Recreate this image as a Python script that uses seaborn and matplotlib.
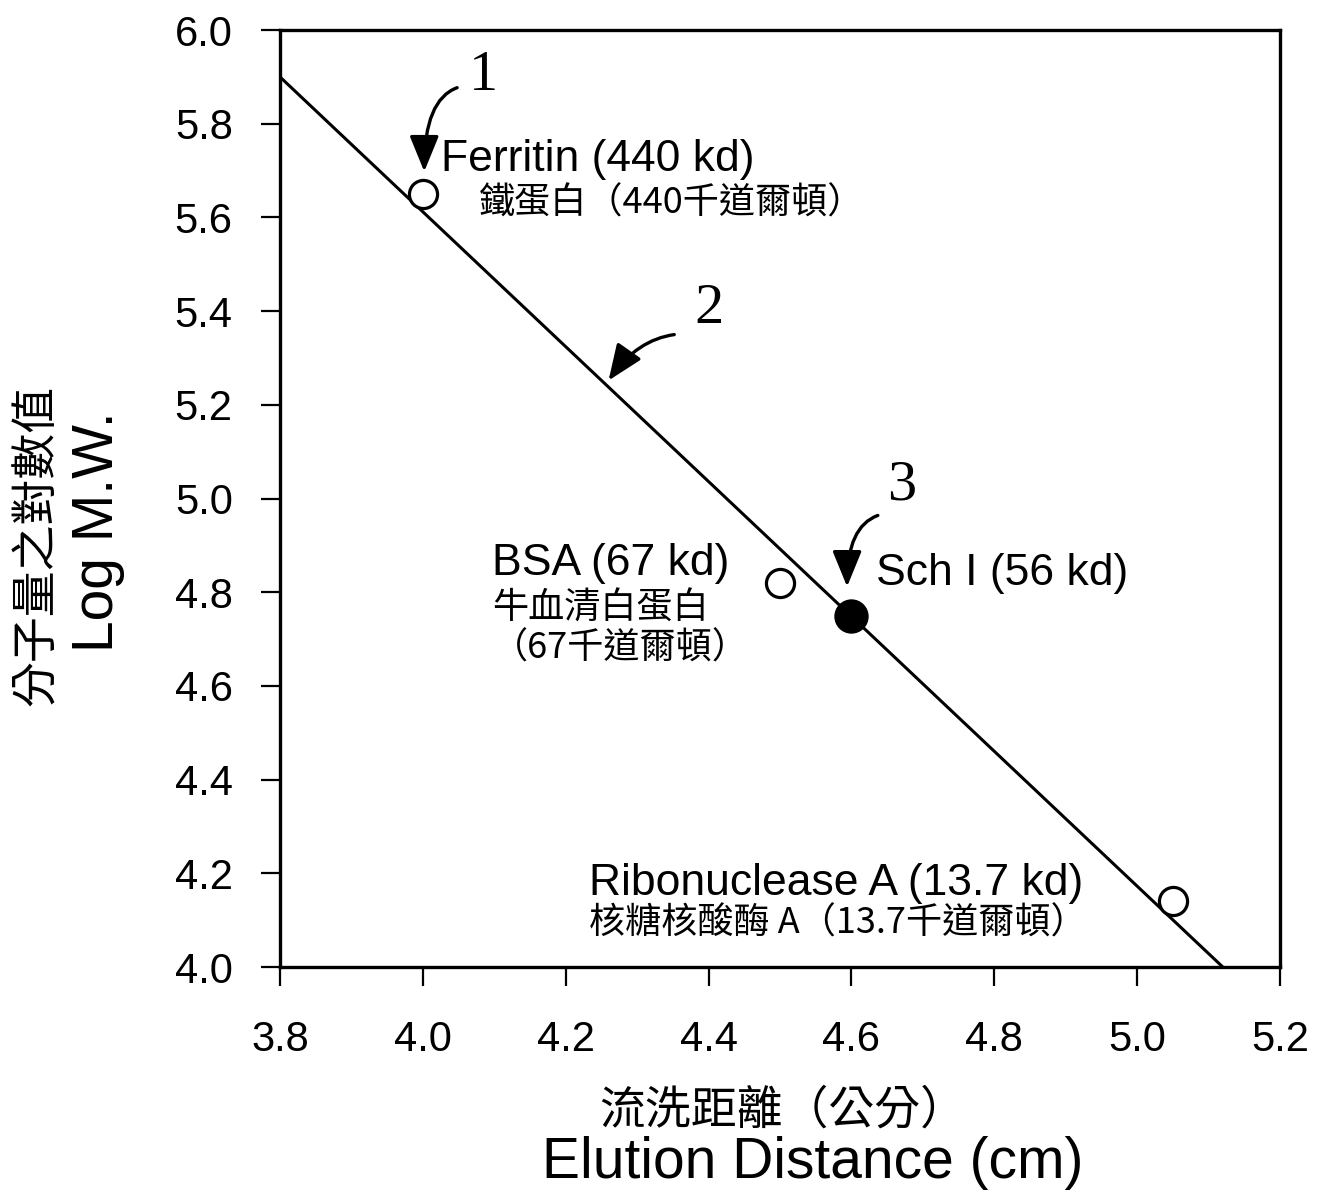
import matplotlib
matplotlib.use("Agg")
import matplotlib.pyplot as plt
import numpy as np
import pandas as pd
import seaborn as sns

# ---------------- data ----------------
standard_names = ["Ferritin", "BSA", "Ribonuclease A"]
standard_x = [4.00, 4.50, 5.05]
standard_y = [5.65, 4.82, 4.14]
sample_names = ["Sch I"]
sample_x = [4.60]
sample_y = [4.75]
fit_x = [3.80, 5.12]
fit_y = [5.90, 4.00]
x_ticks = [3.8, 4.0, 4.2, 4.4, 4.6, 4.8, 5.0, 5.2]
y_ticks = [4.0, 4.2, 4.4, 4.6, 4.8, 5.0, 5.2, 5.4, 5.6, 5.8, 6.0]
x_tick_labels = ["3.8", "4.0", "4.2", "4.4", "4.6", "4.8", "5.0", "5.2"]
y_tick_labels = ["4.0", "4.2", "4.4", "4.6", "4.8", "5.0", "5.2", "5.4", "5.6", "5.8", "6.0"]
label_en = ["Ferritin (440 kd)", "BSA (67 kd)", "Sch I (56 kd)", "Ribonuclease A (13.7 kd)"]
label_zh = ["鐵蛋白（440千道爾頓）", "牛血清白蛋白", "（67千道爾頓）", "核糖核酸酶 A（13.7千道爾頓）"]
arrow_numbers = ["1", "2", "3"]
xlabel_zh = "流洗距離（公分）"
xlabel_en = "Elution Distance (cm)"
ylabel_zh = "分子量之對數值"
ylabel_en = "Log M.W."

standards = pd.DataFrame({"name": standard_names, "x": standard_x, "y": standard_y})
sample = pd.DataFrame({"name": sample_names, "x": sample_x, "y": sample_y})
fit = pd.DataFrame({"x": fit_x, "y": fit_y})

# ---------------- style ----------------
sns.set_theme(style="ticks")
LAT = ["Liberation Sans", "DejaVu Sans"]
CJK = ["Noto Sans CJK TC", "DejaVu Sans"]
SERIF = ["Liberation Serif", "DejaVu Serif"]
plt.rcParams["font.family"] = ["Liberation Sans", "Noto Sans CJK TC", "DejaVu Sans"]
plt.rcParams["axes.linewidth"] = 2.4
plt.rcParams["axes.unicode_minus"] = False
plt.rcParams["text.color"] = "black"
plt.rcParams["axes.labelcolor"] = "black"
plt.rcParams["xtick.color"] = "black"
plt.rcParams["ytick.color"] = "black"
plt.rcParams["axes.edgecolor"] = "black"

fig = plt.figure(figsize=(13.25, 11.98), dpi=100)
ax = fig.add_axes([0.2113, 0.1928, 0.7547, 0.7821])
ax.set_facecolor("white")
fig.patch.set_facecolor("white")

sns.lineplot(data=fit, x="x", y="y", ax=ax, color="black", linewidth=2.2,
             zorder=2, legend=False)
sns.scatterplot(data=standards, x="x", y="y", ax=ax, s=410, marker="o",
                facecolor="white", edgecolor="black", linewidth=2.3,
                zorder=3, legend=False)
sns.scatterplot(data=sample, x="x", y="y", ax=ax, s=540, marker="o",
                color="black", edgecolor="black", linewidth=1.5,
                zorder=3, legend=False)

ax.set_xlim(3.8, 5.2)
ax.set_ylim(4.0, 6.0)
ax.set_xticks(x_ticks)
ax.set_xticklabels(x_tick_labels)
ax.set_yticks(y_ticks)
ax.set_yticklabels(y_tick_labels)
ax.tick_params(axis="x", direction="out", length=14, width=1.6, pad=24,
               labelsize=30, colors="black")
ax.tick_params(axis="y", direction="out", length=14, width=1.6, pad=20,
               labelsize=30, colors="black")
for sp in ax.spines.values():
    sp.set_visible(True)
    sp.set_color("black")
    sp.set_linewidth(2.4)
ax.set_xlabel("")
ax.set_ylabel("")

# ---------------- annotations ----------------
FS_EN = 32
FS_ZH = 26
ax.text(4.025, 5.723, label_en[0], fontsize=FS_EN, family=LAT, ha="left", va="center")
ax.text(4.078, 5.630, label_zh[0], fontsize=FS_ZH, family=CJK, ha="left", va="center")
ax.text(4.097, 4.861, label_en[1], fontsize=FS_EN, family=LAT, ha="left", va="center")
ax.text(4.097, 4.765, label_zh[1], fontsize=FS_ZH, family=CJK, ha="left", va="center")
ax.text(4.096, 4.680, label_zh[2], fontsize=FS_ZH, family=CJK, ha="left", va="center")
ax.text(4.635, 4.840, label_en[2], fontsize=FS_EN, family=LAT, ha="left", va="center")
ax.text(4.232, 4.178, label_en[3], fontsize=FS_EN, family=LAT, ha="left", va="center")
ax.text(4.232, 4.093, label_zh[3], fontsize=FS_ZH, family=CJK, ha="left", va="center")

num_pos = [(4.085, 5.903), (4.400, 5.404), (4.670, 5.027)]
arrow_tail = [(4.048, 5.877), (4.352, 5.350), (4.637, 4.964)]
arrow_tip = [(4.002, 5.698), (4.260, 5.252), (4.594, 4.812)]
arrow_conn = ["angle3,angleA=20,angleB=90",
              "angle3,angleA=8,angleB=55",
              "angle3,angleA=20,angleB=90"]
for num, pos, tail, tip, conn in zip(arrow_numbers, num_pos, arrow_tail,
                                      arrow_tip, arrow_conn):
    ax.text(pos[0], pos[1], num, fontsize=42, family=SERIF, ha="center",
            va="center", color="black")
    ax.annotate("", xy=tip, xytext=tail,
                arrowprops=dict(arrowstyle="-|>,head_length=1.1,head_width=0.45",
                                connectionstyle=conn,
                                color="black", lw=2.4, shrinkA=0, shrinkB=0,
                                mutation_scale=20))

# ---------------- axis titles ----------------
fig.text(0.591, 0.0735, xlabel_zh, fontsize=33, family=CJK, ha="center", va="center")
fig.text(0.613, 0.029, xlabel_en, fontsize=41, family=LAT, ha="center", va="center")
fig.text(0.028, 0.545, ylabel_zh, fontsize=33, family=CJK, ha="center", va="center",
         rotation=90)
fig.text(0.074, 0.556, ylabel_en, fontsize=41, family=LAT, ha="center", va="center",
         rotation=90)

fig.savefig("out.png", dpi=100, facecolor="white")
